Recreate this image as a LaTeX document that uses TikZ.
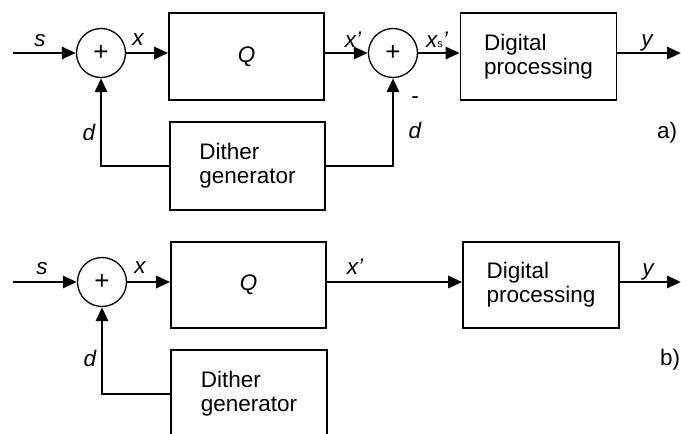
\documentclass[tikz,border=0pt]{standalone}
\usepackage{fontspec}
\setmainfont{Liberation Sans}
\usetikzlibrary{arrows.meta,calc}

\begin{document}
\begin{tikzpicture}[
  x=1pt,y=-1pt,
  blk/.style={draw,line width=1.6pt,minimum width=155pt,minimum height=87pt,inner sep=0pt,align=left,font=\fontsize{22.5}{24}\selectfont},
  sum/.style={circle,draw,line width=1.3pt,minimum size=49pt,inner sep=0pt,font=\fontsize{26}{26}\selectfont},
  sig/.style={-{Triangle[length=14pt,width=12pt]},line width=2.9pt},
  lbl/.style={inner sep=0pt,font=\fontsize{22.5}{22.5}\selectfont\itshape},
  tag/.style={inner sep=0pt,font=\fontsize{22.5}{22.5}\selectfont}
]
\clip (0,0) rectangle (681,434);
% a)
\node[sum] (sumA) at (101,53) {+};
\node[blk] (quantA) at (246.5,56.5) {\itshape Q};
\node[sum] (sumA2) at (393,53) {+};
\node[blk,minimum width=156pt] (digA) at (538.5,56.5) {Digital\\processing};
\node[blk,minimum height=88pt] (ditherA) at (247.5,166) {Dither\\generator};
\coordinate (inA) at (13,53);
\coordinate (outA) at (681,53);
\draw[sig] (inA) -- (sumA.west);
\draw[sig] (sumA.east) -- (sumA.east -| quantA.west);
\draw[sig] (sumA2.west -| quantA.east) -- (sumA2.west);
\draw[sig] (sumA2.east) -- (sumA2.east -| digA.west);
\draw[sig] (outA -| digA.east) -- (outA);
\draw[sig] (ditherA.west) -| (sumA.south);
\draw[sig] (ditherA.east) -| (sumA2.south);
\node[lbl] (sA) at (40,41) {s};
\node[lbl] (xA) at (138,40) {x};
\node[lbl] (xqA) at (353,40) {x'};
\node[lbl] (xsA) at (437,40) {x{\fontsize{11}{11}\selectfont\upshape s}'};
\node[lbl] (yA) at (647,43) {y};
\node[lbl] (dA) at (89,132) {d};
\node[lbl] (dA2) at (415,130) {d};
\node[tag] (minusA) at (415,100) {-};
\node[tag] (tagA) at (667,133) {a)};
% b)
\node[sum] (sumB) at (102,282) {+};
\node[blk,minimum height=86pt] (quantB) at (248.5,285) {\itshape Q};
\node[blk,minimum width=156pt,minimum height=86pt] (digB) at (541,285) {Digital\\processing};
\node[blk,minimum width=156pt,minimum height=88pt] (ditherB) at (249,394) {Dither\\generator};
\coordinate (inB) at (13,282);
\coordinate (outB) at (681,282);
\draw[sig] (inB) -- (sumB.west);
\draw[sig] (sumB.east) -- (sumB.east -| quantB.west);
\draw[sig] (sumB.east -| quantB.east) -- (sumB.east -| digB.west);
\draw[sig] (outB -| digB.east) -- (outB);
\draw[sig] (ditherB.west) -| (sumB.south);
\node[lbl] (sB) at (42,269) {s};
\node[lbl] (xB) at (140,268) {x};
\node[lbl] (xqB) at (355,267) {x'};
\node[lbl] (yB) at (648,272) {y};
\node[lbl] (dB) at (90,358) {d};
\node[tag] (tagB) at (670,360) {b)};
\end{tikzpicture}
\end{document}
